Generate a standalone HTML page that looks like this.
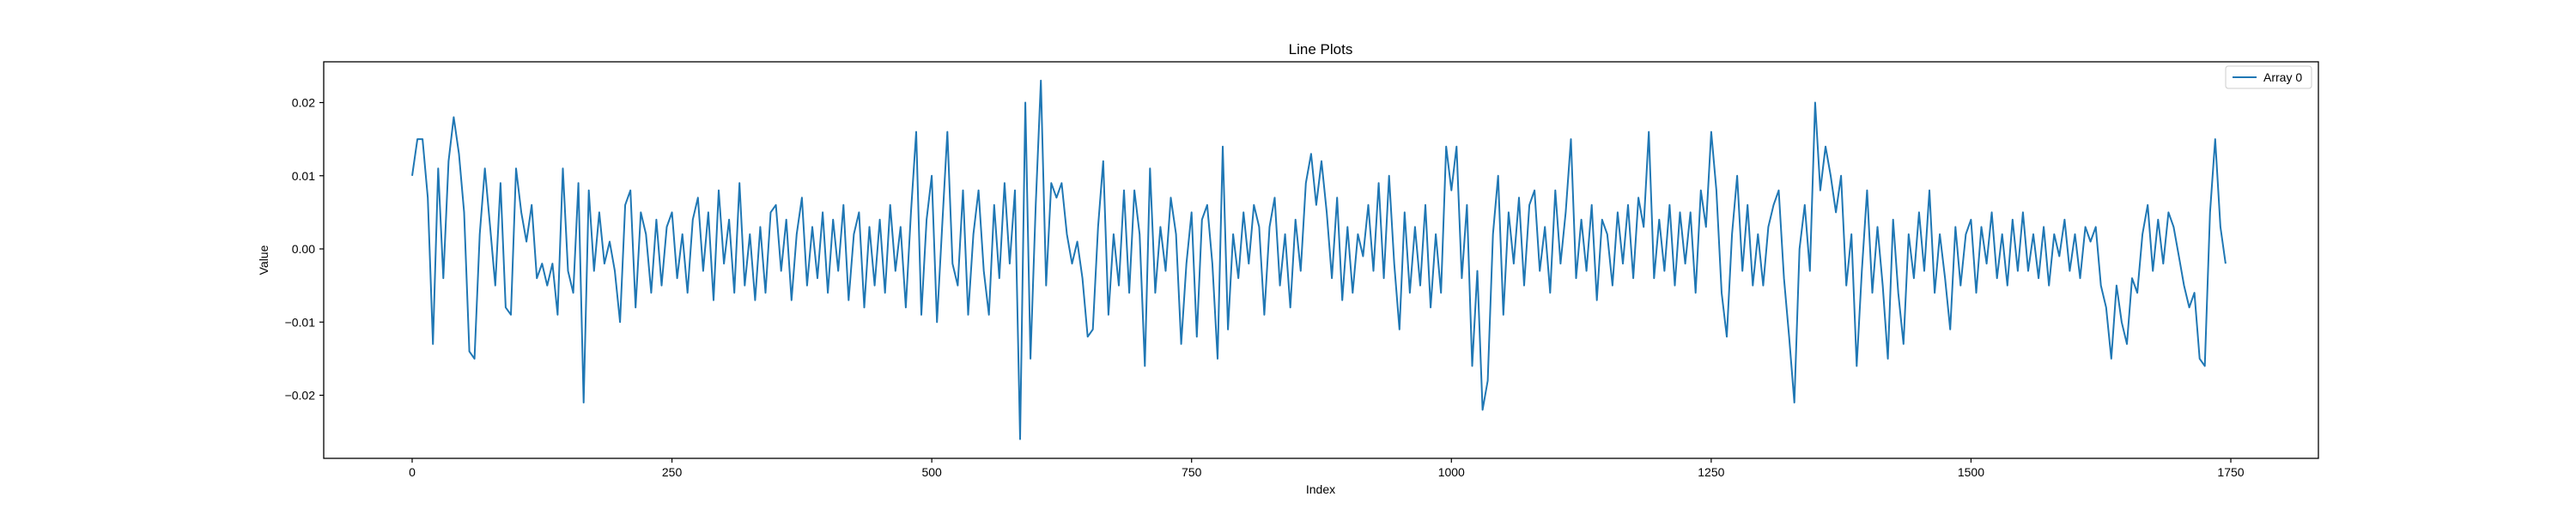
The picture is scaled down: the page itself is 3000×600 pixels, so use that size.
<!DOCTYPE html>
<html><head><meta charset="utf-8"><style>
body{margin:0;background:#fff;}
svg{display:block;font-family:"Liberation Sans","DejaVu Sans",sans-serif;}
</style></head><body>
<svg id="chart" width="3000" height="600">
<rect x="0" y="0" width="3000" height="600" fill="#fff"/>
<text x="1538" y="63" font-size="17" text-anchor="middle">Line Plots</text>
<g id="plot"></g>
<rect x="377" y="72" width="2323" height="462" fill="none" stroke="#000" stroke-width="1.3"/>
<text x="1538" y="575" font-size="14" text-anchor="middle">Index</text>
<text x="312" y="303" font-size="14" text-anchor="middle" transform="rotate(-90 312 303)">Value</text>
<g>
<rect x="2592" y="77" width="100" height="26" fill="#fff" stroke="#ccc" stroke-width="1" rx="3"/>
<line x1="2600" y1="90" x2="2628" y2="90" stroke="#1f77b4" stroke-width="2"/>
<text x="2636" y="95" font-size="14">Array 0</text>
</g>
</svg>
<script>
const xTicks=[0,250,500,750,1000,1250,1500,1750];
const yTicks=[-0.02,-0.01,0,0.01,0.02];
const yTickLabels=["\u22120.02","\u22120.01","0.00","0.01","0.02"];
const indexStep=5;
const unitScale=0.001;
const seriesValues=[
10,15,15,7,-13,11,-4,12,18,13,
5,-14,-15,2,11,3,-5,9,-8,-9,
11,5,1,6,-4,-2,-5,-2,-9,11,
-3,-6,9,-21,8,-3,5,-2,1,-3,
-10,6,8,-8,5,2,-6,4,-5,3,
5,-4,2,-6,4,7,-3,5,-7,8,
-2,4,-6,9,-5,2,-7,3,-6,5,
6,-3,4,-7,2,7,-5,3,-4,5,
-6,4,-3,6,-7,2,5,-8,3,-5,
4,-6,6,-3,3,-8,5,16,-9,4,
10,-10,3,16,-2,-5,8,-9,2,8,
-3,-9,6,-4,9,-2,8,-26,20,-15,
6,23,-5,9,7,9,2,-2,1,-4,
-12,-11,3,12,-9,2,-5,8,-6,8,
2,-16,11,-6,3,-3,7,2,-13,-2,
5,-12,4,6,-2,-15,14,-11,2,-4,
5,-2,6,3,-9,3,7,-5,2,-8,
4,-3,9,13,6,12,5,-4,7,-7,
3,-6,2,-1,6,-3,9,-4,10,-2,
-11,5,-6,3,-5,6,-8,2,-6,14,
8,14,-4,6,-16,-3,-22,-18,2,10,
-9,5,-2,7,-5,6,8,-3,3,-6,
8,-2,5,15,-4,4,-3,6,-7,4,
2,-5,5,-2,6,-4,7,3,16,-4,
4,-3,6,-5,5,-2,5,-6,8,3,
16,8,-6,-12,2,10,-3,6,-5,2,
-5,3,6,8,-4,-12,-21,0,6,-3,
20,8,14,10,5,10,-5,2,-16,-3,
8,-6,3,-5,-15,4,-6,-13,2,-4,
5,-3,8,-6,2,-4,-11,3,-5,2,
4,-6,3,-2,5,-4,2,-5,4,-3,
5,-3,2,-4,3,-5,2,-1,4,-3,
2,-4,3,1,3,-5,-8,-15,-5,-10,
-13,-4,-6,2,6,-3,4,-2,5,3,
-1,-5,-8,-6,-15,-16,5,15,3,-2
];
const NS="http://www.w3.org/2000/svg";
function xScale(i){return 480+(i/1750)*(2598-480);}
function yScale(v){return 290-(v/0.02)*(290-119.5);}
const svg=document.getElementById('chart');
const plot=document.getElementById('plot');
xTicks.forEach(t=>{
  const x=xScale(t);
  const l=document.createElementNS(NS,'line');
  l.setAttribute('x1',x);l.setAttribute('x2',x);l.setAttribute('y1',534);l.setAttribute('y2',539);
  l.setAttribute('stroke','#000');l.setAttribute('stroke-width','1.2');
  
  
  svg.appendChild(l);
  const tx=document.createElementNS(NS,'text');
  tx.setAttribute('x',x);tx.setAttribute('y',555);tx.setAttribute('font-size','14');tx.setAttribute('text-anchor','middle');
  tx.textContent=String(t);
  
  
  svg.appendChild(tx);
});
yTicks.forEach((t,k)=>{
  const y=yScale(t);
  const l=document.createElementNS(NS,'line');
  l.setAttribute('x1',372);l.setAttribute('x2',377);l.setAttribute('y1',y);l.setAttribute('y2',y);
  l.setAttribute('stroke','#000');l.setAttribute('stroke-width','1.2');
  
  
  svg.appendChild(l);
  const tx=document.createElementNS(NS,'text');
  tx.setAttribute('x',367);tx.setAttribute('y',y+5);tx.setAttribute('font-size','14');tx.setAttribute('text-anchor','end');
  tx.textContent=yTickLabels[k];
  
  
  svg.appendChild(tx);
});
const pts=seriesValues.map((v,i)=>xScale(i*indexStep).toFixed(1)+','+yScale(v*unitScale).toFixed(1)).join(' ');
const pl=document.createElementNS(NS,'polyline');
pl.setAttribute('points',pts);
pl.setAttribute('fill','none');pl.setAttribute('stroke','#1f77b4');pl.setAttribute('stroke-width','2');pl.setAttribute('stroke-linejoin','round');


plot.appendChild(pl);
</script>
</body></html>
